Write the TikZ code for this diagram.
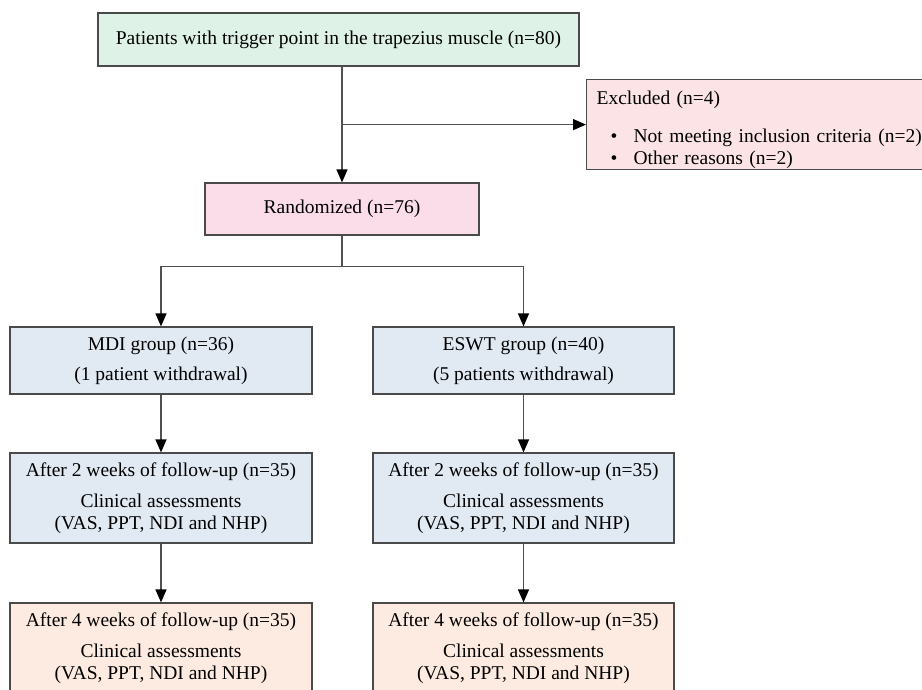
\documentclass[tikz,border=0pt]{standalone}
\usepackage{fontspec}
\setmainfont{Liberation Serif}
\usetikzlibrary{arrows.meta}
\definecolor{cgreen}{HTML}{DFF2E7}
\definecolor{cexcl}{HTML}{FCE4E6}
\definecolor{crand}{HTML}{FBDDEA}
\definecolor{cblue}{HTML}{E1E9F3}
\definecolor{cpeach}{HTML}{FDEAE0}
\definecolor{cborder}{HTML}{4A4A4A}
\definecolor{cline}{HTML}{505050}
\begin{document}
\begin{tikzpicture}[x=1pt,y=-1pt,
  box/.style={draw=cborder, line width=1.2pt, inner sep=0pt, align=center,
    font=\fontsize{19.5}{22}\selectfont},
  line/.style={draw=cline, line width=1.4pt},
  arr/.style={line, -{Triangle[length=13pt,width=11pt,color=black]}}]
\useasboundingbox (0,0) rectangle (922,690);
\clip (0,0) rectangle (922,690);
\fill[white] (0,0) rectangle (922,690);

\node[box, fill=cgreen, minimum width=481pt, minimum height=53pt] (top) at (338.5,39.5)
  {Patients with trigger point in the trapezius muscle (n=80)};
\node[box, fill=cexcl, anchor=north west, minimum height=90pt, text width=380pt,
  align=left, inner xsep=10pt] (excl) at (586,79)
  {\rule{0pt}{24pt}Excluded (n=4)\\[16pt]\hspace*{14pt}\makebox[23pt][l]{\textbullet}Not meeting inclusion criteria (n=2)\\
   \hspace*{14pt}\makebox[23pt][l]{\textbullet}Other reasons (n=2)};
\node[box, fill=crand, minimum width=274pt, minimum height=52pt] (rand) at (342,209)
  {Randomized (n=76)};
\node[box, fill=cblue, minimum width=302pt, minimum height=67pt] (mdi) at (161,360.5)
  {MDI group (n=36)\\[8pt](1 patient withdrawal)};
\node[box, fill=cblue, minimum width=301pt, minimum height=67pt] (eswt) at (523.5,360.5)
  {ESWT group (n=40)\\[8pt](5 patients withdrawal)};
\node[box, fill=cblue, minimum width=302pt, minimum height=90pt] (m2) at (161,498)
  {After 2 weeks of follow-up (n=35)\\[9pt]Clinical assessments\\(VAS, PPT, NDI and NHP)};
\node[box, fill=cblue, minimum width=301pt, minimum height=90pt] (e2) at (523.5,498)
  {After 2 weeks of follow-up (n=35)\\[9pt]Clinical assessments\\(VAS, PPT, NDI and NHP)};
\node[box, fill=cpeach, minimum width=302pt, minimum height=90pt] (m4) at (161,648)
  {After 4 weeks of follow-up (n=35)\\[9pt]Clinical assessments\\(VAS, PPT, NDI and NHP)};
\node[box, fill=cpeach, minimum width=301pt, minimum height=90pt] (e4) at (523.5,648)
  {After 4 weeks of follow-up (n=35)\\[9pt]Clinical assessments\\(VAS, PPT, NDI and NHP)};

\draw[arr] (top.south -| rand.north) -- (rand.north);
\draw[arr] (excl.west -| rand.north) -- (excl.west);
\draw[arr] (rand.south) -- ++(0,31) -| (mdi.north);
\draw[arr] (rand.south) -- ++(0,31) -| (eswt.north);
\draw[arr] (mdi) -- (m2);
\draw[arr] (eswt) -- (e2);
\draw[arr] (m2) -- (m4);
\draw[arr] (e2) -- (e4);
\end{tikzpicture}
\end{document}
